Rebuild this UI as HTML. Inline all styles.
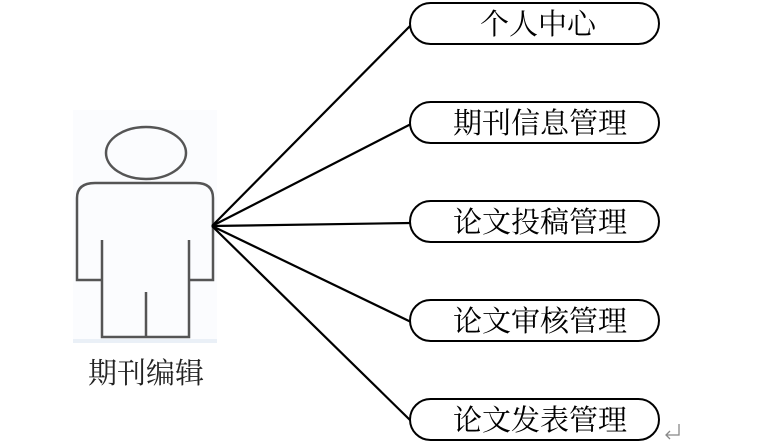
<!DOCTYPE html>
<html><head><meta charset="utf-8"><style>
html,body{margin:0;padding:0;background:#fff;}
svg{display:block;}
text{font-family:"Liberation Serif","Noto Serif CJK SC",serif;font-size:29px;fill:#000;}
</style></head><body>
<svg width="761" height="446" viewBox="0 0 761 446" xmlns="http://www.w3.org/2000/svg">
<rect x="73" y="110" width="144" height="232" fill="#fbfcfe"/>
<rect x="73" y="339" width="144" height="4" fill="#eaf0f7"/>
<g fill="none" stroke="#555" stroke-width="2.5">
<ellipse cx="146" cy="153" rx="40" ry="26"/>
<path d="M102 280 L77 280 L77 198 Q77 183 95 183 L196 183 Q213 183 213 198 L213 280 L189 280"/>
<path d="M102 240 L102 337 L189 337 L189 240"/>
<path d="M146 292 L146 337"/>
</g>
<text x="146" y="383" text-anchor="middle" style="fill:#222">期刊编辑</text>
<g stroke="#000" stroke-width="2.2">
<line x1="212" y1="226" x2="411" y2="25"/>
<line x1="212" y1="226" x2="411" y2="124"/>
<line x1="212" y1="226" x2="411" y2="223"/>
<line x1="212" y1="226" x2="411" y2="322"/>
<line x1="212" y1="226" x2="411" y2="421"/>
</g>
<g fill="#fff" stroke="#000" stroke-width="2">
<rect x="410" y="3" width="249" height="41" rx="20.5"/>
<rect x="410" y="102" width="249" height="41" rx="20.5"/>
<rect x="410" y="201" width="249" height="41" rx="20.5"/>
<rect x="410" y="300" width="249" height="41" rx="20.5"/>
<rect x="410" y="399" width="249" height="41" rx="20.5"/>
</g>
<g text-anchor="middle">
<text x="538" y="34">个人中心</text>
<text x="540" y="133">期刊信息管理</text>
<text x="540" y="232">论文投稿管理</text>
<text x="540" y="331">论文审核管理</text>
<text x="540" y="430">论文发表管理</text>
</g>
<path d="M679 424 L679 435 L666 435 M670 431 L666 435 L670 439" fill="none" stroke="#888" stroke-width="1.3"/>
</svg>
</body></html>
